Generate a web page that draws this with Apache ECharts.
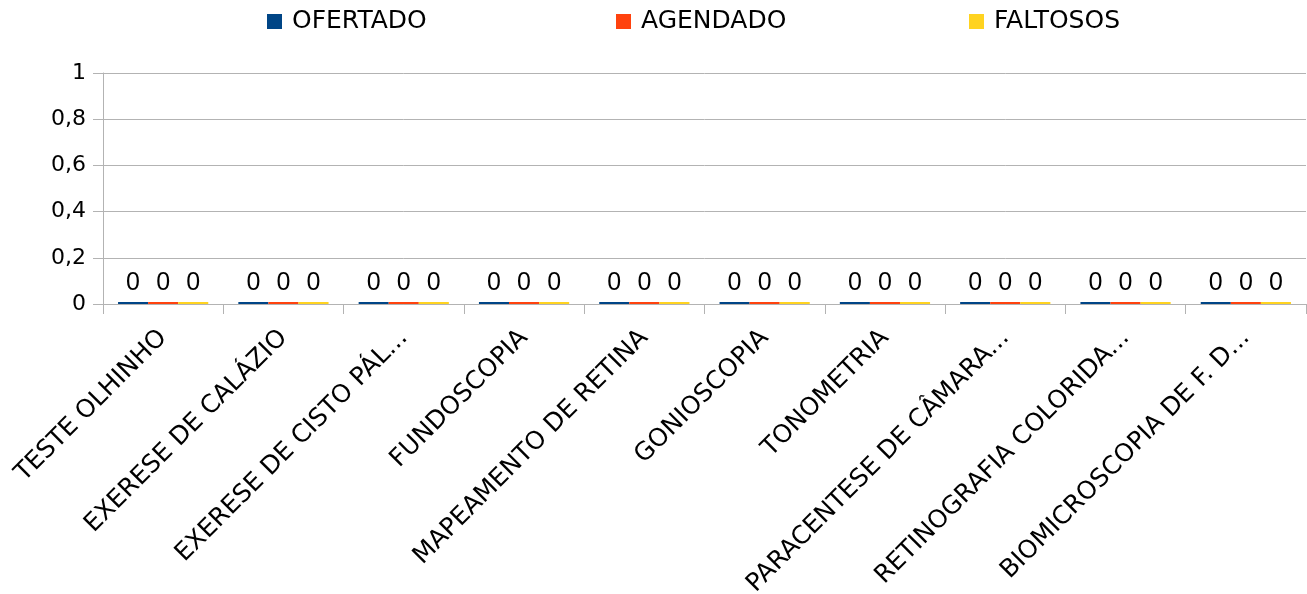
<!DOCTYPE html>
<html>
<head>
<meta charset="utf-8">
<script src="https://cdn.jsdelivr.net/npm/echarts@6/dist/echarts.min.js"></script>
<style>html,body{margin:0;padding:0;background:#fff}#c{width:1307px;height:594px}</style>
</head>
<body>
<div id="c"></div>
<script>
const categories = ["TESTE OLHINHO","EXERESE DE CALÁZIO","EXERESE DE CISTO PÁL...","FUNDOSCOPIA","MAPEAMENTO DE RETINA","GONIOSCOPIA","TONOMETRIA","PARACENTESE DE CÂMARA...","RETINOGRAFIA COLORIDA...","BIOMICROSCOPIA DE F. D..."];
const ofertado = [0,0,0,0,0,0,0,0,0,0];
const agendado = [0,0,0,0,0,0,0,0,0,0];
const faltosos = [0,0,0,0,0,0,0,0,0,0];
const seriesNames = ["OFERTADO","AGENDADO","FALTOSOS"];
const colors = ["#004586","#ff420e","#ffd320"];
const yTicks = [0,0.2,0.4,0.6,0.8,1];

const font = "DejaVu Sans";
const chart = echarts.init(document.getElementById('c'));
const mk = (name, data, color) => ({
  name, type: 'bar', data, barGap: '0%', barCategoryGap: '25%', barMinHeight: 2,
  itemStyle: {color},
  label: {show: true, position: 'top', distance: 6, fontFamily: 'Liberation Sans', fontSize: 25, color: '#000', formatter: p => String(p.value)}
});
const legendLeft = [267, 616, 969];
chart.setOption({
  animation: false,
  color: colors,
  textStyle: {fontFamily: font},
  legend: seriesNames.map((n, i) => ({
    data: [n], left: legendLeft[i], top: 9, padding: 0, icon: 'rect', itemWidth: 15, itemHeight: 15, itemGap: 6,
    textStyle: {fontFamily: font, fontSize: 25, color: '#000', padding: [0, 0, 0, 5]}
  })),
  grid: {left: 103, right: 1, top: 73, bottom: 290, containLabel: false, outerBoundsMode: 'none'},
  xAxis: {
    type: 'category', data: categories,
    axisLine: {lineStyle: {color: '#b3b3b3'}},
    axisTick: {show: true, length: 10, lineStyle: {color: '#b3b3b3'}},
    axisLabel: {rotate: 45, interval: 0, fontFamily: font, fontSize: 25, color: '#000', margin: 30}
  },
  yAxis: {
    type: 'value', min: 0, max: 1, interval: 0.2,
    axisLine: {show: true, lineStyle: {color: '#b3b3b3'}},
    axisTick: {show: true, length: 10, lineStyle: {color: '#b3b3b3'}},
    splitLine: {lineStyle: {color: '#b3b3b3'}},
    axisLabel: {fontFamily: font, fontSize: 22, color: '#000', margin: 17,
      formatter: v => { const t = yTicks.find(x => Math.abs(x - v) < 1e-9); return String(t === undefined ? v : t).replace('.', ','); }}
  },
  series: [mk(seriesNames[0], ofertado, colors[0]), mk(seriesNames[1], agendado, colors[1]), mk(seriesNames[2], faltosos, colors[2])]
});
</script>
</body>
</html>
